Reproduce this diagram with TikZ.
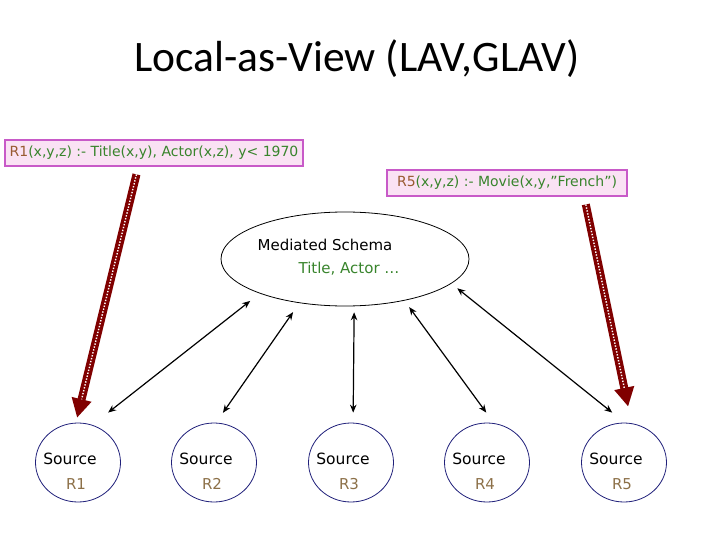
\documentclass[tikz,border=0pt]{standalone}
\usepackage{fontspec}
\setmainfont{DejaVu Sans}
\newfontfamily\titlefont{Carlito}
\usetikzlibrary{shapes.geometric,arrows.meta}

\definecolor{boxfill}{RGB}{250,226,244}
\definecolor{boxline}{RGB}{200,90,200}
\definecolor{relbrown}{RGB}{153,90,50}
\definecolor{viewgreen}{RGB}{56,132,44}
\definecolor{srcbrown}{RGB}{140,112,72}
\definecolor{srcline}{RGB}{32,32,122}
\definecolor{mapred}{RGB}{128,0,0}

\begin{document}
\begin{tikzpicture}[x=1pt,y=-1pt,
    viewbox/.style={draw=boxline, fill=boxfill, line width=1.2pt, minimum height=26pt, inner sep=0pt, font=\fontsize{14}{16}\selectfont},
    schema/.style={ellipse, draw, line width=0.8pt, minimum width=248pt, minimum height=94pt, inner sep=0pt},
    source/.style={ellipse, draw=srcline, line width=0.8pt, minimum width=85pt, minimum height=79pt, inner sep=0pt},
    srcword/.style={anchor=base, inner sep=0pt, font=\fontsize{15.5}{18}\selectfont},
    srcname/.style={anchor=base, inner sep=0pt, text=srcbrown, font=\fontsize{15}{18}\selectfont},
    link/.style={line width=1.2pt, {Stealth[length=8pt,width=6.5pt]}-{Stealth[length=8pt,width=6.5pt]}},
    mapping/.style={draw=mapred, line width=8pt, -{Triangle[width=19pt,length=19pt]}},
    mapdots/.style={draw=white, line width=1.4pt, dash pattern=on 1.4pt off 1.6pt}]
    \useasboundingbox (0,0) rectangle (720,540);

    % title
    \node[anchor=base, font=\titlefont\fontsize{43.5}{52}\selectfont] (title) at (357,72) {Local-as-View (LAV,GLAV)};

    % view definitions
    \node[viewbox, minimum width=298pt] (rone) at (154,153) {\textcolor{relbrown}{R1}\textcolor{viewgreen}{(x,y,z) :- Title(x,y), Actor(x,z), y< 1970}};
    \node[viewbox, minimum width=240pt] (rfive) at (507,183) {\textcolor{relbrown}{R5}\textcolor{viewgreen}{(x,y,z) :- Movie(x,y,”French”)}};

    % mediated schema
    \node[schema] (med) at (345,259) {};
    \node[anchor=base, inner sep=0pt, font=\fontsize{15}{18}\selectfont] (medname) at (325,251) {Mediated Schema};
    \node[anchor=base, inner sep=0pt, text=viewgreen, font=\fontsize{15}{18}\selectfont] (medrel) at (349,273) {Title, Actor …};

    % sources
    \node[source] (s1) at (78,462.5) {};
    \node[srcword] (s1word) at (70,464) {Source};
    \node[srcname] (s1name) at (76,489) {R1};
    \node[source] (s2) at (214,462.5) {};
    \node[srcword] (s2word) at (206,464) {Source};
    \node[srcname] (s2name) at (212,489) {R2};
    \node[source] (s3) at (351,462.5) {};
    \node[srcword] (s3word) at (343,464) {Source};
    \node[srcname] (s3name) at (349,489) {R3};
    \node[source] (s4) at (487,462.5) {};
    \node[srcword] (s4word) at (479,464) {Source};
    \node[srcname] (s4name) at (485,489) {R4};
    \node[source] (s5) at (624,462.5) {};
    \node[srcword] (s5word) at (616,464) {Source};
    \node[srcname] (s5name) at (622,489) {R5};

    % schema to sources
    \draw[link, shorten <=12pt, shorten >=20pt] (med.202.5) -- (s1.69);
    \draw[link, shorten <=11pt, shorten >=12pt] (med.224) -- (s2.87);
    \draw[link, shorten <=6pt, shorten >=10pt] (med.281) -- (s3.87);
    \draw[link, shorten <=8pt, shorten >=13pt] (med.325) -- (s4.80);
    \draw[link, shorten <=7.5pt, shorten >=16pt] (med.347) -- (s5.89);

    % views to sources
    \draw[mapping, shorten <=8pt, shorten >=5pt] (rone.221) -- (s1.93);
    \draw[mapdots, shorten <=8pt, shorten >=24pt] (rone.221) -- (s1.93);
    \draw[mapping, shorten <=8pt, shorten >=17pt] (rfive.350.6) -- (s5.79);
    \draw[mapdots, shorten <=8pt, shorten >=36pt] (rfive.350.6) -- (s5.79);
\end{tikzpicture}
\end{document}
